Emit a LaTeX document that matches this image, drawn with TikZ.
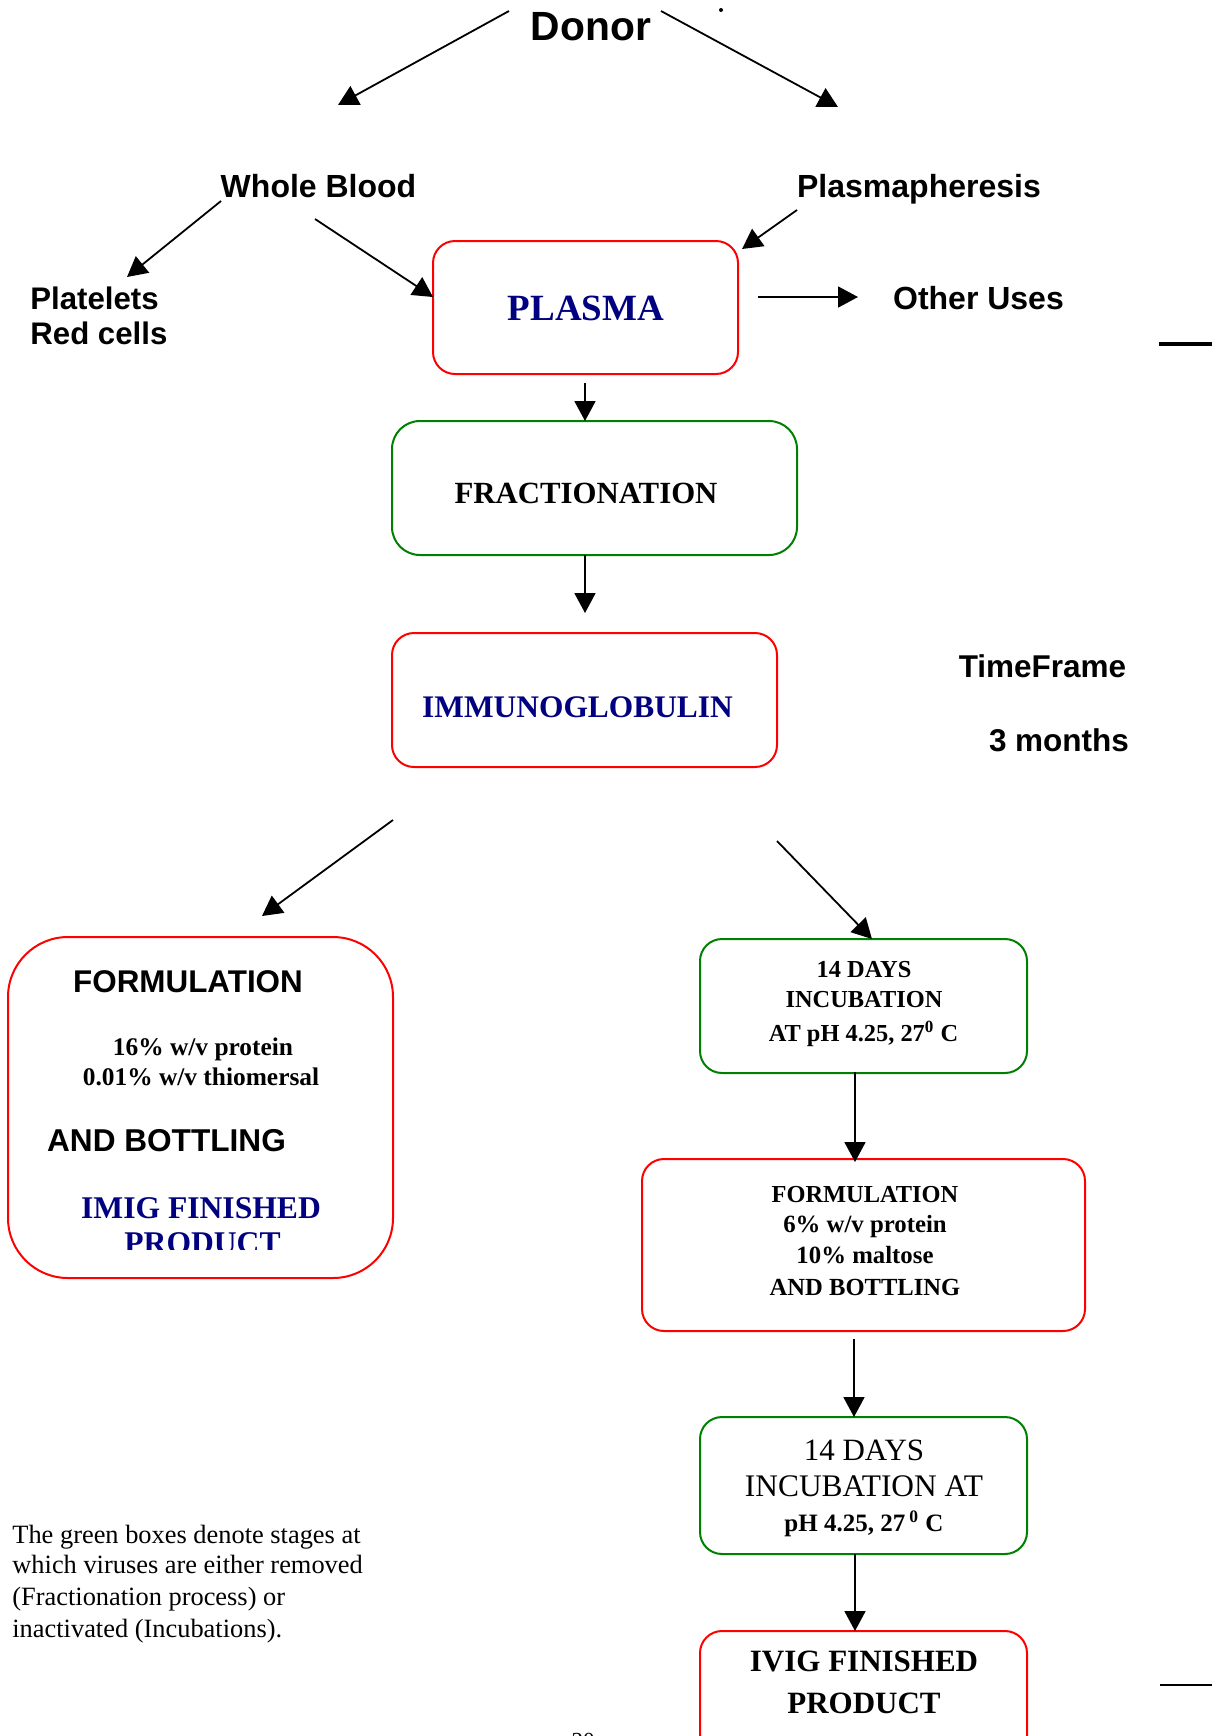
\documentclass[tikz,border=0pt]{standalone}
\usepackage{fontspec}
\setmainfont{Liberation Serif}
\newfontfamily\arialf{Liberation Sans}
\usetikzlibrary{arrows.meta}
\definecolor{boxred}{RGB}{255,0,0}
\definecolor{boxgreen}{RGB}{0,128,0}
\definecolor{navyblue}{RGB}{0,0,128}
\begin{document}
\begin{tikzpicture}[x=0.5pt,y=-0.5pt,
  arr/.style={line width=0.9pt,-{Triangle[length=10pt,width=10.5pt]}},
  sansb/.style={anchor=base,inner sep=0pt,font=\arialf\bfseries\fontsize{#1}{#1}\selectfont},
  serifb/.style={anchor=base,inner sep=0pt,font=\bfseries\fontsize{#1}{#1}\selectfont},
  serifr/.style={anchor=base,inner sep=0pt,font=\fontsize{#1}{#1}\selectfont},
  rbox/.style={draw=boxred,line width=1pt,rounded corners=11pt,inner sep=0pt},
  gbox/.style={draw=boxgreen,line width=1pt,rounded corners=11pt,inner sep=0pt}]
\clip (0,0) rectangle (1212,1736);
\fill[white] (0,0) rectangle (1212,1736);

% top labels
\node[sansb=20.4pt] (donor) at (591,40) {Donor};
\node[sansb=16pt] (wb) at (318.5,197) {Whole Blood};
\node[sansb=16pt] (pph) at (919,197) {Plasmapheresis};
\node[sansb=15.6pt,anchor=base west] (plt) at (30,309.5) {Platelets};
\node[sansb=15.6pt,anchor=base west] (rbc) at (30,344.5) {Red cells};
\node[sansb=16pt] (other) at (978.5,309.5) {Other Uses};
\fill (721,10) circle (1pt);

% main column
\node[rbox,minimum width=152.5pt,minimum height=66.5pt] (plasma) at (585.5,307.5) {};
\node[serifb=18.5pt,text=navyblue] (plasmat) at (586,320) {PLASMA};
\node[gbox,rounded corners=14pt,minimum width=202.5pt,minimum height=67pt] (frac) at (594.5,488) {};
\node[serifb=15.4pt] (fract) at (586,503) {FRACTIONATION};
\node[rbox,minimum width=192.5pt,minimum height=67pt] (immuno) at (584.5,700) {};
\node[serifb=15.7pt,text=navyblue] (immunot) at (577.5,717) {IMMUNOGLOBULIN};
\node[sansb=15.75pt] (tf) at (1042.5,677) {TimeFrame};
\node[sansb=15.75pt] (tm) at (1059,751) {3 months};

% left box
\node[rbox,rounded corners=30pt,minimum width=192.5pt,minimum height=170.5pt] (forml) at (200.5,1107.5) {};
\node[sansb=15.7pt] (forml1) at (188,992) {FORMULATION};
\node[serifb=12.7pt] (forml2) at (203,1055) {16\% w/v protein};
\node[serifb=12.7pt] (forml3) at (201,1085) {0.01\% w/v thiomersal};
\node[sansb=15.8pt] (forml4) at (166.5,1151) {AND BOTTLING};
\node[serifb=15.8pt,text=navyblue] (forml5) at (201,1218) {IMIG FINISHED};
\begin{scope}
\clip (0,1150) rectangle (420,1249);
\node[serifb=15.8pt,text=navyblue] (forml6) at (202.5,1253) {PRODUCT};
\end{scope}

% right column
\node[gbox,minimum width=163.5pt,minimum height=67pt] (inc1) at (863.5,1006) {};
\node[serifb=12.2pt] (inc1a) at (864,977) {14 DAYS};
\node[serifb=12.2pt] (inc1b) at (864,1007) {INCUBATION};
\node[serifb=12.2pt] (inc1c) at (863.5,1041) {AT pH 4.25, 27\textsuperscript{0} C};

\node[rbox,minimum width=221.5pt,minimum height=86pt] (form2) at (863.5,1245) {};
\node[serifb=12.2pt] (form2a) at (865,1202) {FORMULATION};
\node[serifb=12.4pt] (form2b) at (865,1232) {6\% w/v protein};
\node[serifb=12.4pt] (form2c) at (865,1263) {10\% maltose};
\node[serifb=12.3pt] (form2d) at (865,1295) {AND BOTTLING};

\node[gbox,minimum width=163.5pt,minimum height=68.5pt] (inc2) at (863.5,1485.5) {};
\node[serifr=15.5pt] (inc2a) at (864,1460) {14 DAYS};
\node[serifr=15.7pt] (inc2b) at (864,1496) {INCUBATION AT};
\node[serifb=12.5pt] (inc2c) at (864,1531) {pH 4.25, 27\,\textsuperscript{0} C};

\node[rbox,minimum width=163.5pt,minimum height=67.5pt] (ivig) at (863.5,1698.5) {};
\node[serifb=15.5pt] (ivig1) at (864,1671) {IVIG FINISHED};
\node[serifb=15.5pt] (ivig2) at (864,1713) {PRODUCT};

% note
\node[serifr=13.2pt,anchor=base west] (note1) at (12,1543) {The green boxes denote stages at};
\node[serifr=13.2pt,anchor=base west] (note2) at (12,1573) {which viruses are either removed};
\node[serifr=13.2pt,anchor=base west] (note3) at (12,1605) {(Fractionation process) or};
\node[serifr=13.2pt,anchor=base west] (note4) at (12,1637) {inactivated (Incubations).};

% page number (cut off by the page edge, as in the reference)
\node[serifr=11.5pt] (pagenum) at (583,1748) {20};

% stray edge rules
\draw[line width=2pt] (1159,344) -- (1212,344);
\draw[line width=1pt] (1160,1685) -- (1212,1685);

% connector end points
\coordinate (a1s) at (509,11);   \coordinate (a1e) at (338,105);
\coordinate (a2s) at (661,11);   \coordinate (a2e) at (838,107);
\coordinate (a3s) at (221,201);  \coordinate (a3e) at (127,277);
\coordinate (a4s) at (315,219);  \coordinate (a4e) at (433,297);
\coordinate (a5s) at (797,210);  \coordinate (a5e) at (742,249);
\coordinate (a6s) at (758,297);  \coordinate (a6e) at (858,297);
\coordinate (a7s) at (585,383);  \coordinate (a7e) at (585,421);
\coordinate (a8s) at (585,555);  \coordinate (a8e) at (585,613);
\coordinate (a9s) at (393,820);  \coordinate (a9e) at (262,916);
\coordinate (a10s) at (777,841); \coordinate (a10e) at (872,939);
\coordinate (a11s) at (855,1072); \coordinate (a11e) at (855,1162);
\coordinate (a12s) at (854,1339); \coordinate (a12e) at (854,1417);
\coordinate (a13s) at (855,1554); \coordinate (a13e) at (855,1631);

\draw[arr] (a1s) -- (a1e);
\draw[arr] (a2s) -- (a2e);
\draw[arr] (a3s) -- (a3e);
\draw[arr] (a4s) -- (a4e);
\draw[arr] (a5s) -- (a5e);
\draw[arr] (a6s) -- (a6e);
\draw[arr] (a7s) -- (a7e);
\draw[arr] (a8s) -- (a8e);
\draw[arr] (a9s) -- (a9e);
\draw[arr] (a10s) -- (a10e);
\draw[arr] (a11s) -- (a11e);
\draw[arr] (a12s) -- (a12e);
\draw[arr] (a13s) -- (a13e);
\end{tikzpicture}
\end{document}
